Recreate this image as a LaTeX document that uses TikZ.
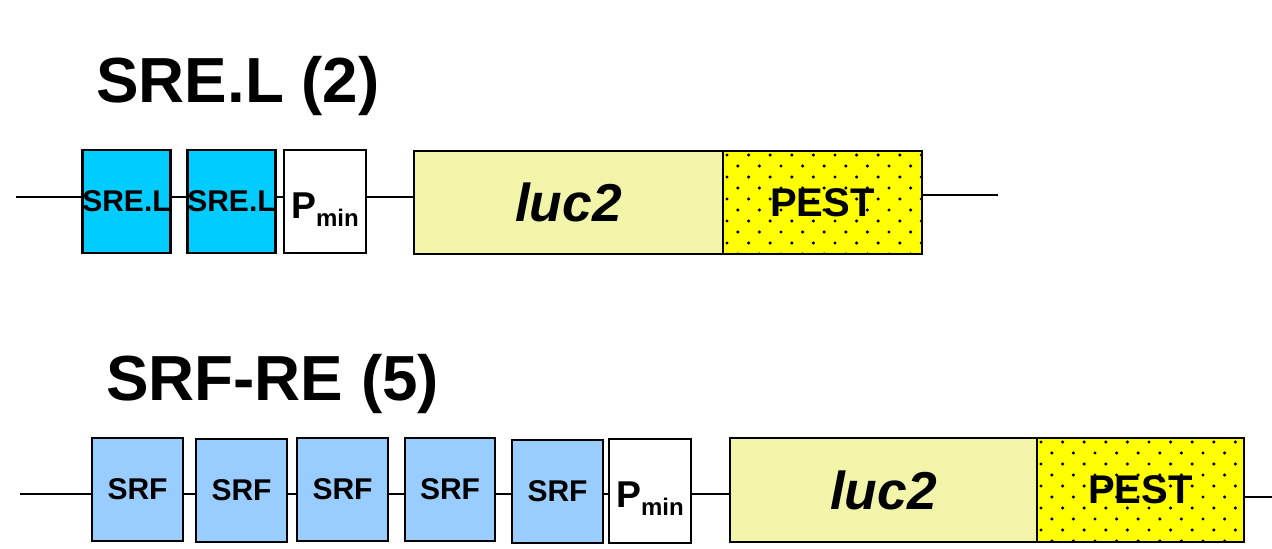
\documentclass[tikz,border=0pt]{standalone}
\usepackage{fontspec}
\setmainfont{Liberation Sans}
\usetikzlibrary{calc}
\definecolor{srelc}{HTML}{00CCFF}
\definecolor{srfc}{HTML}{99CCFF}
\definecolor{lucc}{HTML}{F2F5A9}
\definecolor{pestc}{HTML}{FFFF00}
\newcommand{\pminlabel}{{\fontsize{28}{28}\selectfont P}{\fontsize{18}{18}\selectfont\raisebox{-6pt}{min}}}
\begin{document}
\begin{tikzpicture}[x=0.75pt,y=-0.75pt,
  backbone/.style={draw=black,line width=2pt},
  gbox/.style={draw=black,line width=2pt,rectangle,inner sep=0pt,minimum height=77.25pt,font=\bfseries},
  bw/.style={minimum width=#1*0.75pt},
  bh/.style={minimum height=#1*0.75pt},
  srelbox/.style={gbox,fill=srelc,font=\bfseries\fontsize{22.5}{22.5}\selectfont},
  srfbox/.style={gbox,fill=srfc,font=\bfseries\fontsize{22.5}{22.5}\selectfont},
  pminbox/.style={gbox,fill=white,text height=25pt,text depth=0pt},
  lucbox/.style={gbox,fill=lucc,font=\bfseries\itshape\fontsize{40}{40}\selectfont},
  pestbox/.style={gbox,fill=pestc,font=\bfseries\fontsize{30}{30}\selectfont,
    path picture={
      \foreach \j in {0,...,9}{
        \foreach \i in {0,...,10}{
          \fill[black] ($(path picture bounding box.north west)+({(\i+0.5*mod(\j,2))*21.6+4},{\j*11+4})$) circle[radius=1.3pt];
        }
      }
    }},
  title/.style={anchor=base west,inner sep=0pt,font=\bfseries\fontsize{47.8}{47.8}\selectfont}]
\useasboundingbox (0,0) rectangle (1272,549);

% Row 1
\node[title] (t1) at (96,103) {SRE.L (2)};
\coordinate (r1s) at (16,197);
\coordinate (r1e) at (998,195);
\node[srelbox,bw=87] (a1) at (126.5,201.5) {\phantom{SRE.L}};
\node[srelbox,bw=87] (a2) at (231.5,201.5) {\phantom{SRE.L}};
\node[pminbox,bw=82] (a3) at (325,201.5) {\pminlabel};
\node[lucbox,bw=309] (a4) at (568.5,202.5) {luc2};
\node[pestbox,bw=199] (a5) at (822.5,202.5) {PEST};
\draw[backbone] (r1s) -- (r1s -| a1.west);
\draw[backbone] (a1.east |- r1s) -- (a2.west |- r1s);
\draw[backbone] (a2.east |- r1s) -- (a3.west |- r1s);
\draw[backbone] (a3.east |- r1s) -- (a4.west |- r1s);
\draw[backbone] (a5.east |- r1e) -- (r1e);
% labels of the SRE.L boxes, set over the backbone where they overflow
\node[font=\bfseries\fontsize{22.5}{22.5}\selectfont,inner sep=0pt] (a1t) at (a1.center) {SRE.L};
\node[font=\bfseries\fontsize{22.5}{22.5}\selectfont,inner sep=0pt] (a2t) at (a2.center) {SRE.L};

% Row 2
\node[title] (t2) at (106,400) {SRF-RE (5)};
\coordinate (r2s) at (20,494);
\coordinate (r2e) at (1272,497);
\node[srfbox,bw=91] (b1) at (137.5,489.5) {SRF};
\node[srfbox,bw=91] (b2) at (241.5,490.5) {SRF};
\node[srfbox,bw=91] (b3) at (342.5,489.5) {SRF};
\node[srfbox,bw=90] (b4) at (450,489.5) {SRF};
\node[srfbox,bw=91] (b5) at (557.5,491.5) {SRF};
\node[pminbox,bw=82,bh=104] (b6) at (650,491) {\pminlabel};
\node[lucbox,bw=307,bh=104] (b7) at (883.5,490) {luc2};
\node[pestbox,bw=207,bh=104] (b8) at (1140.5,490) {PEST};
\draw[backbone] (r2s) -- (r2s -| b1.west);
\draw[backbone] (b1.east |- r2s) -- (b2.west |- r2s);
\draw[backbone] (b2.east |- r2s) -- (b3.west |- r2s);
\draw[backbone] (b3.east |- r2s) -- (b4.west |- r2s);
\draw[backbone] (b4.east |- r2s) -- (b5.west |- r2s);
\draw[backbone] (b5.east |- r2s) -- (b6.west |- r2s);
\draw[backbone] (b6.east |- r2s) -- (b7.west |- r2s);
\draw[backbone] (b8.east |- r2e) -- (r2e);
\end{tikzpicture}
\end{document}
